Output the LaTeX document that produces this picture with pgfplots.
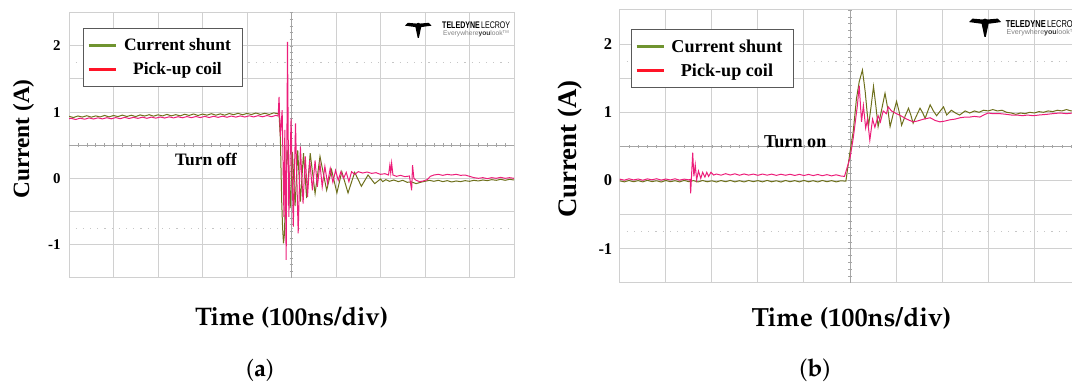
\documentclass[border=0pt]{standalone}
\usepackage[T1]{fontenc}
\usepackage{fontspec}
\setmainfont{Liberation Serif}
\newfontfamily\logofont{Liberation Sans}
\usepackage{pgfplots}
\pgfplotsset{compat=1.18}
\newcommand\pal{\fontencoding{T1}\fontfamily{ppl}\selectfont}
\definecolor{gridc}{RGB}{208,208,208}
\definecolor{crossc}{RGB}{165,165,165}
\definecolor{shunt}{RGB}{110,112,28}
\definecolor{coil}{RGB}{236,30,122}
\definecolor{legg}{RGB}{112,148,48}
\definecolor{legr}{RGB}{255,20,40}
\pgfplotsset{osc/.style={
  anchor=south west, scale only axis,
  xmin=0,xmax=10,ymin=-1.5,ymax=2.5,
  xtick={0,1,...,10}, xticklabels={},
  ytick={-1,0,1,2}, yticklabels={-1,0,1,2},
  minor ytick={-1.5,-0.5,0.5,1.5,2.5},
  grid=both,
  major grid style={draw=gridc,line width=1bp},
  minor grid style={draw=gridc,line width=1bp},
  major tick length=0pt, minor tick length=0pt,
  axis line style={draw=gridc,line width=1bp},
  legend cell align=center,
  legend image code/.code={\draw[#1,line width=2.8bp] (0bp,0bp) -- (27bp,0bp);},
}}
\newcommand\crosshair{%
  \draw[crossc,line width=0.8bp] (axis cs:0,0.5) -- (axis cs:10,0.5);
  \draw[crossc,line width=0.8bp] (axis cs:5,-1.5) -- (axis cs:5,2.5);
  \pgfplotsinvokeforeach{0.2,0.4,...,9.9}{\draw[crossc,line width=0.6bp] ([yshift=-1.8bp]axis cs:##1,0.5) -- ([yshift=1.8bp]axis cs:##1,0.5);}
  \pgfplotsinvokeforeach{-1.4,-1.3,...,2.45}{\draw[crossc,line width=0.6bp] ([xshift=-1.8bp]axis cs:5,##1) -- ([xshift=1.8bp]axis cs:5,##1);}
  \draw[gray!45,line width=0.9bp,dash pattern=on 1.2bp off 6bp] (axis cs:0.15,1.75) -- (axis cs:9.9,1.75);
  \draw[gray!45,line width=0.9bp,dash pattern=on 1.2bp off 6bp] (axis cs:0.15,-0.75) -- (axis cs:9.9,-0.75);
}
\newcommand\logo[1]{% #1 = scale
  \begin{scope}[scale=#1]
  \fill[black] (0,13) -- (3,16) -- (12,15.2) -- (14,16) -- (16,15.2) -- (25,16) -- (28,13) -- (17,11.5)
     -- (14.6,0) -- (13.4,0) -- (11,11.5) -- cycle;
  \end{scope}
}
\begin{document}
\begin{tikzpicture}[x=1bp,y=1bp]
\useasboundingbox (0,0) rectangle (1072,385);
% ---------------- panel (a)
\begin{axis}[osc, at={(69bp,107.3bp)}, width=445bp, height=265bp,
  yticklabel style={font=\fontsize{15}{15}\selectfont\bfseries, xshift=-5bp},
  legend style={at={(0.031,0.941)}, anchor=north west, draw=black!65, line width=0.8bp,
    inner xsep=4bp, inner ysep=8bp, row sep=6bp,
    font=\fontsize{17.5}{18}\selectfont\bfseries, nodes={inner sep=2bp}}]
  \crosshair
  \addplot[shunt, line width=1bp, forget plot] coordinates {
  (0.0,0.935) (0.1,0.918) (0.2,0.941) (0.3,0.925) (0.4,0.945) (0.5,0.923) (0.6,0.942) (0.7,0.927)
  (0.8,0.949) (0.9,0.927) (1.0,0.948) (1.1,0.932) (1.2,0.954) (1.3,0.933) (1.4,0.952) (1.5,0.932)
  (1.6,0.957) (1.7,0.940) (1.8,0.960) (1.9,0.938) (2.0,0.959) (2.1,0.942) (2.2,0.965) (2.3,0.943)
  (2.4,0.961) (2.5,0.943) (2.6,0.967) (2.7,0.949) (2.8,0.971) (2.9,0.948) (3.0,0.970) (3.1,0.953)
  (3.2,0.975) (3.3,0.953) (3.4,0.973) (3.5,0.953) (3.6,0.978) (3.7,0.961) (3.8,0.981) (3.9,0.959)
  (4.0,0.980) (4.1,0.963) (4.2,0.986) (4.3,0.964) (4.4,0.982) (4.5,0.964) (4.6,0.988) (4.7,0.974)
  (4.72,0.97) (4.75,0.6) (4.78,-0.35) (4.80,-0.75) (4.82,-0.98) (4.84,-0.85) (4.87,-0.2) (4.90,0.43)
  (4.93,0.25) (4.97,-0.45) (5.02,0.40) (5.08,-0.42) (5.14,0.42) (5.20,-0.35) (5.27,0.38) (5.34,-0.30)
  (5.42,0.38) (5.53,-0.23) (5.64,0.33) (5.79,-0.18) (5.90,0.13) (6.02,-0.22) (6.13,0.10) (6.27,-0.22)
  (6.42,0.09) (6.57,-0.12) (6.72,0.05) (6.87,-0.08) (7.00,-0.01) (7.05,-0.05) (7.12,-0.02) (7.2,-0.045)
  (7.3,-0.025) (7.4,-0.05) (7.5,-0.03) (7.6,-0.06) (7.7,-0.055) (7.8,-0.08) (7.9,-0.06) (8.0,-0.045)
  (8.1,-0.03) (8.2,-0.045) (8.3,-0.03) (8.4,-0.05) (8.5,-0.035) (8.6,-0.055) (8.7,-0.04) (8.8,-0.05)
  (8.9,-0.035) (9.0,-0.045) (9.1,-0.03) (9.2,-0.04) (9.3,-0.025) (9.4,-0.035) (9.5,-0.02) (9.6,-0.03)
  (9.7,-0.015) (9.8,-0.03) (9.9,-0.015) (10.0,-0.025)};
  \addplot[coil, line width=1bp, forget plot] coordinates {
  (0.0,0.900) (0.05,0.905) (0.15,0.888) (0.25,0.908) (0.35,0.892) (0.45,0.912) (0.55,0.895) (0.65,0.913)
  (0.75,0.897) (0.85,0.915) (0.95,0.898) (1.05,0.917) (1.15,0.900) (1.25,0.920) (1.35,0.903) (1.45,0.920)
  (1.55,0.905) (1.65,0.923) (1.75,0.906) (1.85,0.924) (1.95,0.908) (2.05,0.926) (2.15,0.910) (2.25,0.928)
  (2.35,0.912) (2.45,0.930) (2.55,0.914) (2.65,0.932) (2.75,0.915) (2.85,0.933) (2.95,0.917) (3.05,0.935)
  (3.15,0.918) (3.25,0.937) (3.35,0.920) (3.45,0.938) (3.55,0.922) (3.65,0.940) (3.75,0.924) (3.85,0.942)
  (3.95,0.925) (4.05,0.944) (4.15,0.927) (4.25,0.946) (4.35,0.929) (4.45,0.948) (4.55,0.930) (4.65,0.950)
  (4.70,0.94) (4.72,1.23) (4.75,0.63) (4.79,1.03) (4.83,-0.58) (4.85,0.73) (4.88,-1.23) (4.91,2.06)
  (4.94,-0.58) (4.99,0.90) (5.04,-0.73) (5.09,0.83) (5.15,-0.83) (5.20,0.48) (5.26,-0.38) (5.31,0.33)
  (5.36,-0.28) (5.41,0.27) (5.47,-0.18) (5.53,0.27) (5.58,-0.13) (5.64,0.22) (5.69,-0.13) (5.75,0.18)
  (5.81,-0.08) (5.87,0.15) (5.93,-0.06) (5.99,0.12) (6.05,-0.03) (6.11,0.10) (6.17,0.0) (6.23,0.09)
  (6.29,-0.05) (6.35,0.10) (6.42,0.06) (6.5,0.10) (6.6,0.08) (6.7,0.095) (6.8,0.075) (6.9,0.085)
  (7.0,0.06) (7.1,0.07) (7.18,0.05) (7.21,0.20) (7.23,0.08) (7.25,0.23) (7.28,0.05) (7.36,0.03)
  (7.45,0.045) (7.55,0.025) (7.65,0.035) (7.70,-0.18) (7.72,0.20) (7.75,0.0) (7.80,-0.03) (7.88,-0.05)
  (7.96,-0.04) (8.05,-0.02) (8.12,0.03) (8.2,0.05) (8.3,0.06) (8.4,0.045) (8.5,0.06) (8.6,0.05)
  (8.7,0.06) (8.8,0.045) (8.9,0.05) (9.0,0.03) (9.1,0.01) (9.2,0.0) (9.3,0.01) (9.4,-0.005)
  (9.5,0.01) (9.6,0.0) (9.7,0.015) (9.8,0.0) (9.9,0.01) (10.0,0.0)};
  \addlegendimage{legg}
  \addlegendentry{\makebox[117bp]{Current shunt}}
  \addlegendimage{legr}
  \addlegendentry{\makebox[117bp]{Pick-up coil}}
  \node[anchor=base, font=\fontsize{17.5}{18}\selectfont\bfseries] at (axis cs:3.08,0.2) {Turn off};
  \fill[coil] ([xshift=0.5bp]axis cs:10,0.5) -- ++(4bp,1.6bp) -- ++(0,-3.2bp) -- cycle;
\end{axis}
% ---------------- panel (b)
\begin{axis}[osc, at={(619.7bp,102.2bp)}, width=460.6bp, height=272.8bp,
  yticklabel style={font=\fontsize{16.5}{16.5}\selectfont\bfseries, xshift=-4bp},
  legend style={at={(0.024,0.930)}, anchor=north west, draw=black!65, line width=0.8bp,
    inner xsep=4bp, inner ysep=8bp, row sep=6bp,
    font=\fontsize{18.2}{19}\selectfont\bfseries, nodes={inner sep=2bp}}]
  \crosshair
  \addplot[shunt, line width=1bp, forget plot] coordinates {
  (0.0,-0.005) (0.1,-0.02) (0.2,0.0) (0.3,-0.018) (0.4,-0.002) (0.5,-0.02) (0.6,0.002) (0.7,-0.016)
  (0.8,-0.004) (0.9,-0.022) (1.0,0.0) (1.1,-0.018) (1.2,-0.003) (1.3,-0.02) (1.4,0.001) (1.5,-0.017)
  (1.6,-0.002) (1.7,-0.021) (1.8,0.0) (1.9,-0.019) (2.0,-0.004) (2.1,-0.022) (2.2,-0.001) (2.3,-0.018)
  (2.4,0.001) (2.5,-0.02) (2.6,-0.003) (2.7,-0.021) (2.8,0.0) (2.9,-0.017) (3.0,-0.002) (3.1,-0.02)
  (3.2,0.001) (3.3,-0.019) (3.4,-0.004) (3.5,-0.022) (3.6,0.0) (3.7,-0.018) (3.8,-0.002) (3.9,-0.02)
  (4.0,0.001) (4.1,-0.019) (4.2,-0.003) (4.3,-0.021) (4.4,0.0) (4.5,-0.018) (4.6,-0.002) (4.7,-0.02)
  (4.8,-0.004) (4.91,-0.01) (5.00,0.42) (5.07,0.72) (5.14,1.20) (5.20,1.45) (5.27,1.62) (5.33,1.30)
  (5.40,0.79) (5.46,1.10) (5.51,1.38) (5.56,1.10) (5.61,0.79) (5.69,1.05) (5.76,1.28) (5.82,1.05)
  (5.87,0.79) (5.94,0.98) (6.01,1.16) (6.07,1.0) (6.12,0.81) (6.20,0.95) (6.27,1.06) (6.32,0.96)
  (6.37,0.84) (6.45,0.96) (6.52,1.06) (6.58,0.99) (6.63,0.91) (6.69,1.02) (6.74,1.11) (6.81,1.02)
  (6.88,0.95) (6.96,1.02) (7.03,1.08) (7.10,0.96) (7.20,1.03) (7.29,0.99) (7.38,0.96) (7.5,1.02)
  (7.6,0.99) (7.7,1.02) (7.8,1.00) (7.9,1.03) (8.0,1.02) (8.1,1.04)
  (8.2,1.02) (8.3,1.03) (8.4,1.00) (8.5,0.99) (8.6,0.97) (8.7,0.99) (8.8,0.98) (8.9,1.00)
  (9.0,0.99) (9.1,1.01) (9.2,1.00) (9.3,1.02) (9.4,1.01) (9.5,1.03) (9.6,1.02) (9.7,1.04)
  (9.8,1.02) (9.9,1.03) (10.0,1.02)};
  \addplot[coil, line width=1bp, forget plot] coordinates {
  (0.0,0.02) (0.1,0.005) (0.2,0.025) (0.3,0.008) (0.4,0.022) (0.5,0.004) (0.6,0.024) (0.7,0.01)
  (0.8,0.026) (0.9,0.006) (1.0,0.022) (1.1,0.008) (1.2,0.025) (1.3,0.005) (1.4,0.02) (1.5,0.01)
  (1.53,0.015) (1.54,-0.19) (1.585,0.41) (1.61,0.06) (1.64,0.23) (1.67,0.01) (1.71,0.14) (1.76,0.03)
  (1.80,0.12) (1.85,0.05) (1.89,0.12) (1.93,0.06) (1.98,0.12) (2.04,0.08) (2.1,0.095) (2.2,0.078)
  (2.3,0.10) (2.4,0.08) (2.5,0.098) (2.6,0.077) (2.7,0.096) (2.8,0.079) (2.9,0.094) (3.0,0.076)
  (3.1,0.095) (3.2,0.078) (3.3,0.093) (3.4,0.075) (3.5,0.092) (3.6,0.077) (3.7,0.091) (3.8,0.074)
  (3.9,0.09) (4.0,0.073) (4.1,0.089) (4.2,0.072) (4.3,0.088) (4.4,0.07) (4.5,0.086) (4.6,0.068)
  (4.7,0.084) (4.8,0.066) (4.88,0.06) (5.00,0.33) (5.07,0.62) (5.16,1.10) (5.20,1.39) (5.25,0.86)
  (5.29,1.10) (5.34,0.77) (5.38,0.90) (5.43,0.59) (5.49,0.90) (5.54,0.78) (5.61,0.95) (5.66,0.86)
  (5.72,1.02) (5.79,0.98) (5.83,1.08) (5.9,1.02) (6.01,0.98) (6.1,0.95) (6.23,0.90) (6.37,0.86)
  (6.45,0.87) (6.6,0.90) (6.74,0.92) (6.85,0.88) (6.95,0.86) (7.05,0.87) (7.17,0.89) (7.28,0.90)
  (7.39,0.92) (7.5,0.93) (7.6,0.93) (7.7,0.94) (7.82,0.93) (7.9,0.96) (8.0,0.99) (8.1,0.98)
  (8.26,0.98) (8.4,0.97) (8.5,0.96) (8.62,0.96) (8.75,0.95) (8.85,0.96) (8.98,0.95) (9.1,0.96)
  (9.27,0.97) (9.4,0.98) (9.56,0.99) (9.7,0.98) (9.85,0.99) (10.0,0.99)};
  \addlegendimage{legg}
  \addlegendentry{\makebox[120bp]{Current shunt}}
  \addlegendimage{legr}
  \addlegendentry{\makebox[120bp]{Pick-up coil}}
  \node[anchor=base, font=\fontsize{18.2}{19}\selectfont\bfseries] at (axis cs:3.81,0.477) {Turn on};
\end{axis}
% ---------------- outside texts
\node[rotate=90, font=\fontsize{23.4}{24}\selectfont\bfseries] at (23.5,246) {Current (A)};
\node[rotate=90, font=\fontsize{26.9}{27}\selectfont\bfseries] at (569.7,236) {Current (A)};
\node[anchor=base, inner sep=0, font=\pal\bfseries\fontsize{25.5}{26}\selectfont] at (291.7,60) {Time (100ns/div)};
\node[anchor=base, inner sep=0, font=\pal\bfseries\fontsize{26.4}{27}\selectfont] at (851.5,58.3) {Time (100ns/div)};
\node[anchor=base, inner sep=0, font=\pal\fontsize{24}{25}\selectfont] at (260,8.5) {(\textbf{a})};
\node[anchor=base, inner sep=0, font=\pal\fontsize{24.5}{25}\selectfont] at (815,8.5) {(\textbf{b})};
% logos
\begin{scope}[shift={(405,347)}] \logo{0.95} \end{scope}
\node[anchor=west, inner sep=0] at (442,360) {\logofont\resizebox{68bp}{6.7bp}{\bfseries TELEDYNE\,\mdseries LECROY}};
\node[anchor=west, inner sep=0, text=gray] at (443,351.5) {\logofont\resizebox{66bp}{!}{\fontsize{8}{8}\selectfont Everywhere\textbf{\color{black!80}you}look\textsuperscript{\tiny TM}}};
\begin{scope}[shift={(969,348)}] \logo{1.15} \end{scope}
\node[anchor=west, inner sep=0] at (1005.6,361) {\logofont\resizebox{72bp}{7bp}{\bfseries TELEDYNE\,\mdseries LECROY}};
\node[anchor=west, inner sep=0, text=gray] at (1006.5,352.5) {\logofont\resizebox{70bp}{!}{\fontsize{8}{8}\selectfont Everywhere\textbf{\color{black!80}you}look\textsuperscript{\tiny TM}}};
\end{tikzpicture}
\end{document}
